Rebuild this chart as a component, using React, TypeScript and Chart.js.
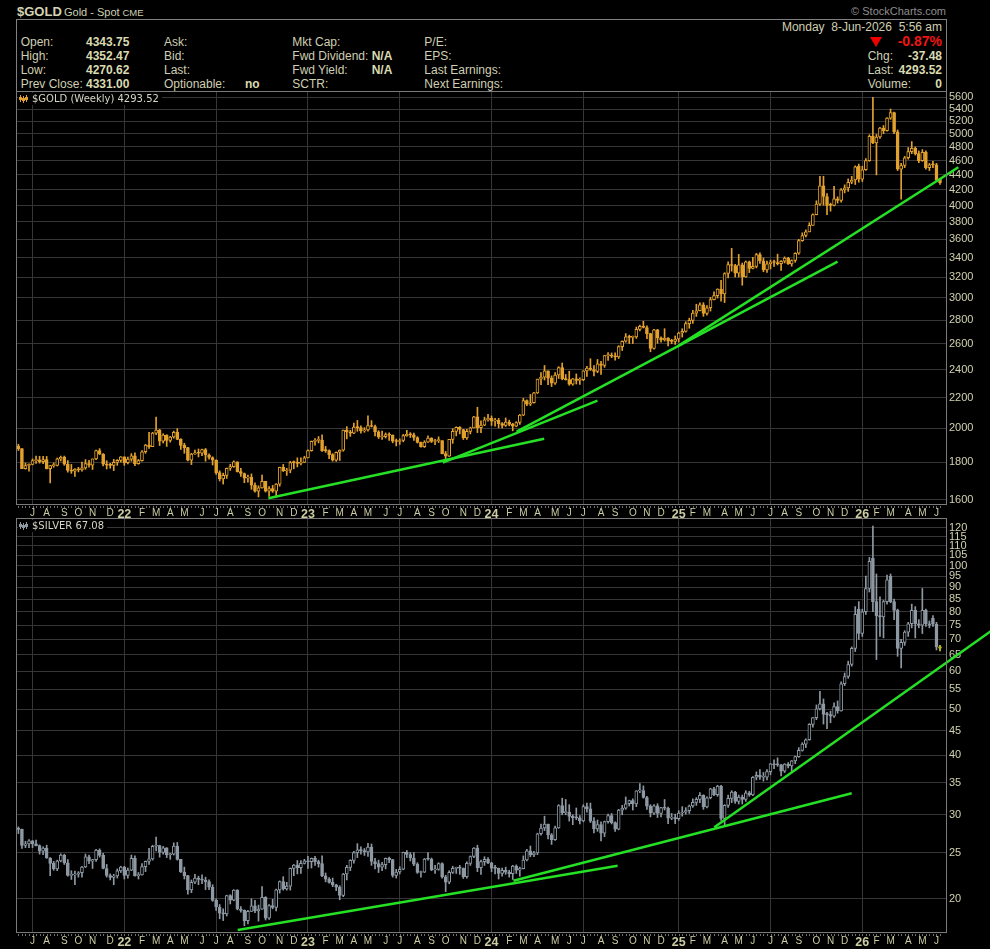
import React, { useEffect, useRef } from 'react';
import { Chart, registerables } from 'chart.js';

Chart.register(...registerables);

// ---- calendar: bar 0 is the week starting Monday 7 Jun 2021 ----
const FIRST_BAR_MONDAY = Date.UTC(2021, 5, 7);
const MONTH_LABELS = [
  'J','A','S','O','N','D',
  '22','F','M','A','M','J','J','A','S','O','N','D',
  '23','F','M','A','M','J','J','A','S','O','N','D',
  '24','F','M','A','M','J','J','A','S','O','N','D',
  '25','F','M','A','M','J','J','A','S','O','N','D',
  '26','F','M','A','M','J',
];

const GOLD_TICKS = [1600,1800,2000,2200,2400,2600,2800,3000,3200,3400,3600,3800,4000,4200,4400,4600,4800,5000,5200,5400,5600];
const SILVER_TICKS = [20,25,30,35,40,45,50,55,60,65,70,75,80,85,90,95,100,105,110,115,120];

// ---- $GOLD weekly OHLC ----
const GOLD_OPEN = [
  1892,1877,1764,1781,1787,1808,1812,1802,1814,1763,
  1780,1781,1818,1827,1788,1754,1750,1761,1757,1768,
  1792,1783,1818,1865,1846,1788,1783,1782,1798,1810,
  1829,1797,1817,1835,1791,1808,1859,1898,1889,1970,
  1988,1921,1958,1925,1946,1975,1932,1896,1883,1811,
  1846,1853,1850,1871,1840,1826,1811,1742,1708,1727,
  1766,1775,1802,1747,1737,1712,1716,1675,1644,1661,
  1695,1644,1657,1644,1681,1771,1751,1755,1797,1797,
  1793,1798,1824,1865,1920,1926,1928,1865,1865,1842,
  1811,1856,1868,1989,1978,1969,2007,2004,1983,1990,
  2017,2011,1978,1946,1948,1961,1958,1921,1919,1925,
  1955,1962,1959,1943,1914,1889,1915,1940,1919,1924,
  1925,1848,1833,1932,1981,2006,1992,1940,1981,2002,
  2072,2004,2019,2053,2063,2045,2049,2029,2018,2039,
  2024,2013,2036,2083,2179,2155,2165,2233,2330,2344,
  2392,2337,2301,2360,2415,2334,2327,2294,2333,2321,
  2326,2391,2411,2401,2386,2443,2431,2507,2512,2503,
  2497,2578,2622,2658,2653,2657,2721,2747,2736,2685,
  2563,2716,2650,2633,2648,2622,2621,2640,2690,2703,
  2770,2798,2861,2883,2936,2858,2910,2984,3022,3085,
  3038,3237,3327,3319,3241,3325,3203,3357,3289,3310,
  3432,3368,3274,3337,3355,3350,3337,3363,3397,3336,
  3371,3448,3586,3643,3685,3760,3887,4018,4252,4113,
  4002,4001,4085,4065,4200,4225,4300,4330,4520,4340,
  4470,4600,4960,4860,4950,5090,5050,5250,5340,5030,
  4480,4530,4640,4730,4780,4700,4600,4720,4500,4540,
  4540,4343.75,
];
const GOLD_HIGH = [
  1903,1878,1795,1790,1818,1834,1833,1832,1832,1782,
  1795,1823,1834,1834,1808,1787,1764,1771,1800,1814,
  1810,1818,1868,1877,1849,1808,1793,1815,1814,1831,
  1830,1828,1848,1853,1815,1865,1902,1974,1975,2070,
  1993,1966,1960,1950,1982,1998,1936,1909,1884,1850,
  1869,1875,1875,1878,1847,1830,1812,1752,1739,1767,
  1788,1807,1802,1765,1740,1729,1735,1688,1672,1729,
  1695,1668,1674,1683,1772,1787,1765,1804,1806,1824,
  1824,1833,1870,1922,1937,1949,1959,1890,1870,1848,
  1858,1870,1989,2010,1988,2032,2049,2015,2004,2079,
  2048,2019,1985,1983,1971,1971,1959,1934,1935,1962,
  1987,1973,1970,1948,1915,1924,1953,1942,1932,1947,
  1925,1861,1932,1997,2009,2010,1993,1993,2007,2075,
  2135,2047,2070,2088,2078,2062,2062,2036,2065,2051,
  2031,2041,2088,2195,2185,2222,2236,2330,2378,2431,
  2392,2354,2378,2422,2450,2364,2388,2335,2368,2340,
  2392,2424,2483,2431,2477,2462,2509,2531,2528,2529,
  2586,2625,2685,2672,2665,2740,2758,2790,2750,2688,
  2721,2721,2658,2726,2652,2638,2665,2697,2726,2786,
  2817,2886,2942,2954,2956,2930,3005,3057,3087,3168,
  3245,3358,3500,3331,3435,3344,3366,3365,3403,3446,
  3451,3398,3365,3374,3375,3438,3370,3409,3404,3378,
  3453,3600,3674,3707,3791,3897,4059,4379,4381,4150,
  4030,4245,4110,4215,4265,4345,4380,4525,4550,4520,
  4630,4985,5600,4990,5100,5130,5260,5400,5350,5060,
  4560,4660,4790,4880,4800,4740,4760,4740,4560,4590,
  4560,4352.47,
];
const GOLD_LOW = [
  1866,1763,1761,1750,1785,1792,1794,1791,1762,1687,
  1771,1778,1806,1782,1745,1738,1721,1746,1750,1760,
  1772,1759,1813,1842,1778,1762,1766,1753,1782,1800,
  1782,1790,1805,1780,1788,1805,1850,1878,1889,1960,
  1895,1910,1890,1915,1939,1930,1872,1850,1807,1786,
  1843,1829,1837,1805,1816,1784,1732,1697,1681,1711,
  1754,1771,1745,1721,1688,1691,1654,1639,1615,1660,
  1640,1618,1638,1616,1670,1748,1727,1741,1763,1773,
  1784,1797,1824,1862,1897,1911,1861,1855,1819,1805,
  1804,1809,1862,1935,1950,1966,1981,1969,1975,1982,
  2008,1952,1937,1932,1940,1925,1911,1893,1902,1917,
  1950,1943,1925,1910,1885,1884,1913,1913,1901,1913,
  1846,1810,1831,1908,1953,1965,1931,1932,1965,2002,
  1973,1973,2016,2045,2017,2013,2002,2002,2011,2015,
  1984,2009,2024,2080,2146,2146,2163,2228,2290,2324,
  2291,2277,2293,2335,2325,2323,2286,2286,2295,2293,
  2319,2350,2393,2353,2377,2364,2417,2470,2491,2471,
  2485,2547,2614,2603,2603,2645,2708,2732,2643,2537,
  2557,2605,2614,2623,2583,2601,2596,2615,2656,2697,
  2730,2772,2832,2881,2833,2844,2880,2982,2999,2971,
  2957,3194,3260,3202,3202,3121,3200,3246,3283,3294,
  3340,3255,3247,3283,3310,3324,3268,3345,3330,3311,
  3352,3436,3578,3627,3684,3758,3885,4000,4004,3886,
  3930,3995,4030,4040,4160,4180,4280,4270,4300,4310,
  4460,4590,4850,4400,4930,5000,5040,5230,5000,4460,
  4080,4500,4620,4700,4680,4570,4590,4480,4460,4500,
  4310,4270.62,
];
const GOLD_CLOSE = [
  1877,1764,1781,1787,1808,1812,1802,1814,1763,1780,
  1781,1818,1827,1788,1754,1750,1761,1757,1768,1792,
  1783,1818,1865,1846,1788,1783,1782,1798,1810,1829,
  1797,1817,1835,1791,1808,1859,1898,1889,1970,1988,
  1921,1958,1925,1946,1975,1932,1896,1883,1811,1846,
  1853,1850,1871,1840,1826,1811,1742,1708,1727,1766,
  1775,1802,1747,1737,1712,1716,1675,1644,1661,1695,
  1644,1657,1644,1681,1771,1751,1755,1797,1797,1793,
  1798,1824,1865,1920,1926,1928,1865,1865,1842,1811,
  1856,1868,1989,1978,1969,2007,2004,1983,1990,2017,
  2011,1978,1946,1948,1961,1958,1921,1919,1925,1955,
  1962,1959,1943,1914,1889,1915,1940,1919,1924,1925,
  1848,1833,1932,1981,2006,1992,1940,1981,2002,2072,
  2004,2019,2053,2063,2045,2049,2029,2018,2039,2024,
  2013,2036,2083,2179,2155,2165,2233,2330,2344,2392,
  2337,2301,2360,2415,2334,2327,2294,2333,2321,2326,
  2391,2411,2401,2386,2443,2431,2507,2512,2503,2497,
  2578,2622,2658,2653,2657,2721,2747,2736,2685,2563,
  2716,2650,2633,2648,2622,2621,2640,2690,2703,2770,
  2798,2861,2883,2936,2858,2910,2984,3022,3085,3038,
  3237,3327,3319,3241,3325,3203,3357,3289,3310,3432,
  3368,3274,3337,3355,3350,3337,3363,3397,3336,3371,
  3448,3586,3643,3685,3760,3887,4018,4252,4113,4002,
  4001,4085,4065,4200,4225,4300,4330,4510,4340,4470,
  4600,4960,4860,4950,5090,5050,5250,5340,5030,4480,
  4530,4640,4730,4780,4700,4600,4720,4500,4540,4540,
  4331,4293.52,
];

// ---- $SILVER weekly OHLC ----
const SILVER_OPEN = [
  28.05,27.95,25.87,26.07,26.45,26.06,25.84,25.18,25.55,24.35,
  23.73,23.09,24.00,24.69,23.78,22.39,22.44,22.51,22.68,23.31,
  24.49,23.99,24.16,25.29,24.66,23.15,22.38,22.18,22.32,22.88,
  23.31,22.38,22.96,24.32,22.36,22.45,23.36,23.95,24.24,25.77,
  25.87,25.00,25.57,24.73,24.80,25.80,24.19,22.76,22.36,20.86,
  21.66,22.09,21.96,21.89,21.72,21.14,19.84,19.22,18.66,18.59,
  20.31,19.87,20.85,19.03,18.91,17.99,18.81,19.32,18.86,19.02,
  20.14,18.21,19.34,19.19,20.88,21.74,20.98,21.25,23.16,23.54,
  23.25,23.73,24.03,23.91,24.30,23.93,23.69,22.33,21.98,21.64,
  21.40,21.16,20.32,22.54,23.27,24.07,24.99,25.32,25.23,25.07,
  25.66,23.94,23.69,23.29,23.58,24.31,24.16,22.39,22.76,23.06,
  25.03,24.77,24.35,23.64,22.70,22.75,24.22,24.20,22.99,23.04,
  23.71,22.22,21.67,22.71,23.16,23.18,23.18,22.26,23.72,24.53,
  25.53,23.23,23.92,24.18,23.79,23.19,23.16,22.59,22.93,22.75,
  22.58,23.43,22.97,23.13,24.12,25.20,24.72,24.95,27.37,28.15,
  28.67,27.22,26.60,28.17,31.35,30.31,30.40,29.77,29.55,29.55,
  29.14,31.23,30.86,29.10,28.01,28.60,27.44,29.02,29.87,28.89,
  28.00,30.68,30.98,31.64,32.12,31.60,33.68,33.72,32.61,31.29,
  30.25,31.33,30.19,31.05,30.96,29.53,29.56,29.45,30.26,30.37,
  30.60,31.30,31.86,32.31,32.97,31.15,32.57,34.02,33.06,34.46,
  29.49,31.40,32.48,33.49,32.02,32.66,32.32,33.34,33.02,35.97,
  36.31,35.97,36.00,36.96,38.39,38.19,38.17,37.03,38.33,37.98,
  38.92,39.72,40.94,42.22,43.11,46.44,47.96,50.05,51.29,48.70,
  48.66,48.31,50.58,49.56,56.50,58.50,62.00,67.00,81.00,72.00,
  80.00,89.50,103.60,84.00,78.50,78.00,84.00,95.00,84.00,80.50,
  67.00,69.00,72.50,75.50,80.50,75.50,75.00,80.50,75.50,77.50,
  75.30,67.50,
];
const SILVER_HIGH = [
  28.30,28.00,26.40,26.60,26.50,26.55,25.95,25.70,25.90,24.40,
  23.95,24.10,24.85,24.80,24.15,22.90,22.85,22.80,23.40,24.82,
  24.70,24.20,25.40,25.45,24.90,23.60,22.55,22.50,23.10,23.40,
  23.40,23.20,24.70,24.60,22.70,23.70,24.00,25.50,25.90,26.95,
  25.90,25.75,25.60,24.90,26.20,26.25,24.20,23.30,22.40,21.90,
  22.50,22.30,22.45,22.20,21.90,21.40,20.00,19.45,19.05,20.35,
  20.40,20.90,20.90,19.25,18.95,18.90,20.00,19.85,19.40,21.20,
  20.20,19.45,19.95,20.95,21.80,22.25,21.65,23.20,23.60,24.05,
  24.05,24.20,24.55,24.35,24.55,24.10,24.60,22.65,22.15,22.10,
  21.45,21.30,22.60,23.50,24.15,25.15,26.10,25.70,25.50,26.15,
  26.05,24.30,24.10,23.85,24.35,24.45,24.20,23.05,23.35,25.05,
  25.25,25.00,25.00,23.80,22.85,24.30,25.00,24.35,23.50,23.80,
  23.80,22.40,22.90,23.40,23.30,23.50,23.20,23.90,24.60,25.60,
  25.90,24.10,24.50,24.40,23.85,23.50,23.20,23.20,23.30,22.95,
  23.50,23.55,23.30,24.60,25.40,25.80,25.15,27.45,28.70,29.80,
  28.70,27.40,28.40,31.50,32.50,32.30,31.50,30.00,31.00,29.90,
  31.50,31.75,31.75,29.60,29.25,29.00,29.10,30.10,30.20,29.00,
  30.80,31.40,32.70,32.20,32.40,33.70,34.90,34.50,32.80,31.50,
  31.50,31.65,31.10,32.30,31.15,30.20,30.10,30.60,31.20,31.05,
  31.45,32.40,32.60,33.40,33.05,32.70,34.10,34.25,34.60,34.60,
  31.50,33.00,33.70,33.60,33.00,33.00,33.70,33.60,36.10,36.90,
  37.30,36.80,37.30,38.45,39.10,39.50,38.30,38.40,38.60,39.00,
  39.80,41.50,42.50,43.30,46.60,48.00,51.00,54.47,52.50,49.20,
  49.50,51.50,52.00,57.00,59.50,63.00,67.50,82.00,84.00,81.00,
  95.00,104.00,121.00,96.00,86.00,84.50,95.50,96.00,85.00,81.00,
  70.00,73.00,76.00,83.00,82.00,77.00,89.50,81.00,76.50,78.50,
  76.00,68.00,
];
const SILVER_LOW = [
  27.40,25.50,25.60,25.60,25.60,25.80,24.80,24.75,24.30,22.35,
  22.95,22.90,23.90,23.60,22.30,21.95,21.40,22.20,22.20,23.25,
  23.70,23.15,23.95,24.45,23.10,22.20,21.90,21.40,22.10,22.70,
  22.00,22.10,22.90,22.30,22.00,22.40,22.80,23.60,24.10,25.20,
  24.45,24.80,24.40,24.20,24.70,24.10,22.70,22.00,20.45,20.60,
  21.50,21.40,21.50,20.90,20.90,19.75,18.90,18.15,18.00,18.40,
  19.50,19.80,18.95,18.75,17.55,17.70,18.80,18.70,17.95,19.00,
  18.05,18.10,19.05,18.85,20.55,20.85,20.85,20.85,22.35,22.55,
  22.60,23.65,23.15,23.20,23.50,23.30,22.25,21.70,21.55,21.20,
  20.80,19.90,20.20,21.90,22.90,23.75,24.40,24.80,24.65,24.55,
  23.50,23.10,22.70,22.90,23.10,23.80,22.20,22.10,22.55,23.00,
  24.40,24.00,23.45,22.60,22.20,22.70,24.10,22.90,22.60,22.95,
  22.10,20.70,21.50,22.60,22.60,22.50,22.05,22.10,23.50,24.40,
  22.80,22.50,23.50,23.70,22.80,22.55,22.00,22.30,22.50,22.20,
  21.95,22.60,22.30,23.10,24.00,24.50,24.50,24.75,27.20,27.80,
  26.70,26.00,26.50,28.10,30.00,30.00,29.10,28.60,29.30,28.70,
  29.00,30.40,28.90,27.50,27.70,26.45,27.00,28.80,28.70,27.70,
  27.90,30.00,30.80,31.30,30.70,31.20,33.40,32.50,30.80,29.70,
  30.00,29.60,29.70,30.70,28.75,29.30,28.75,29.20,29.80,30.10,
  30.20,31.10,31.40,31.80,30.80,31.00,32.40,32.90,32.80,29.20,
  28.35,31.10,31.80,31.70,31.60,31.60,32.00,32.80,32.90,35.50,
  35.60,35.30,35.50,36.40,37.50,37.90,36.20,36.80,37.60,37.00,
  38.40,39.60,40.80,41.50,43.00,45.80,47.50,49.80,46.50,45.50,
  46.80,48.00,49.00,49.50,56.00,58.00,61.50,66.00,70.00,71.00,
  79.00,88.00,80.00,63.50,71.00,70.50,83.00,83.50,77.00,64.50,
  61.00,68.00,71.00,74.00,70.50,74.00,72.00,74.50,74.00,74.50,
  66.50,66.20,
];
const SILVER_CLOSE = [
  27.95,25.87,26.07,26.45,26.06,25.84,25.18,25.55,24.35,23.73,
  23.09,24.00,24.69,23.78,22.39,22.44,22.51,22.68,23.31,24.49,
  23.99,24.16,25.29,24.66,23.15,22.38,22.18,22.32,22.88,23.31,
  22.38,22.96,24.32,22.36,22.45,23.36,23.95,24.24,25.77,25.87,
  25.00,25.57,24.73,24.80,25.80,24.19,22.76,22.36,20.86,21.66,
  22.09,21.96,21.89,21.72,21.14,19.84,19.22,18.66,18.59,20.31,
  19.87,20.85,19.03,18.91,17.99,18.81,19.32,18.86,19.02,20.14,
  18.21,19.34,19.19,20.88,21.74,20.98,21.25,23.16,23.54,23.25,
  23.73,24.03,23.91,24.30,23.93,23.69,22.33,21.98,21.64,21.40,
  21.16,20.32,22.54,23.27,24.07,24.99,25.32,25.23,25.07,25.66,
  23.94,23.69,23.29,23.58,24.31,24.16,22.39,22.76,23.06,25.03,
  24.77,24.35,23.64,22.70,22.75,24.22,24.20,22.99,23.04,23.71,
  22.22,21.67,22.71,23.16,23.18,23.18,22.26,23.72,24.53,25.53,
  23.23,23.92,24.18,23.79,23.19,23.16,22.59,22.93,22.75,22.58,
  23.43,22.97,23.13,24.12,25.20,24.72,24.95,27.37,28.15,28.67,
  27.22,26.60,28.17,31.35,30.31,30.40,29.77,29.55,29.55,29.14,
  31.23,30.86,29.10,28.01,28.60,27.44,29.02,29.87,28.89,28.00,
  30.68,30.98,31.64,32.12,31.60,33.68,33.72,32.61,31.29,30.25,
  31.33,30.19,31.05,30.96,29.53,29.56,29.45,30.26,30.37,30.60,
  31.30,31.86,32.31,32.97,31.15,32.57,34.02,33.06,34.46,29.49,
  31.40,32.48,33.49,32.02,32.66,32.32,33.34,33.02,35.97,36.31,
  35.97,36.00,36.96,38.39,38.19,38.17,37.03,38.33,37.98,38.92,
  39.72,40.94,42.22,43.11,46.44,47.96,50.05,51.29,48.70,48.66,
  48.31,50.58,49.56,56.50,58.50,62.00,67.00,79.00,72.00,80.00,
  89.50,102.00,84.00,78.50,78.00,84.00,93.30,84.00,80.50,67.00,
  69.00,72.50,75.50,80.50,75.50,75.00,80.50,75.50,75.00,75.30,
  67.50,67.08,
];

// ---- trend lines: [startWeek, startPrice, endWeek, endPrice] ----
const GOLD_TRENDLINES = [
  [70.8, 1608, 148.9, 1936],
  [120.2, 1797, 164.0, 2179],
  [141.1, 1979, 232.0, 3359],
  [186.9, 2584, 266.2, 4505],
];
const SILVER_TRENDLINES = [
  [62.1, 17.19, 169.7, 23.46],
  [140.2, 21.82, 236.0, 33.29],
  [197.1, 28.24, 276.6, 73.9],
];

const FONT = '"Liberation Sans", Arial, Helvetica, sans-serif';
const GOLD_COLOR = '#e2a12e';
const SILVER_COLOR = '#8e99a3';
const GRID = '#363636';
const FRAME = '#7a7a7a';
const AXIS_TEXT = '#d2d2b0';
const GREEN = '#25e025';

const WEEK_MS = 7 * 86400000;
const MONTH_TICKS = MONTH_LABELS.map((_, m) => {
  const d = new Date(Date.UTC(2021, 6 + m, 1));
  const add = (8 - d.getUTCDay()) % 7;
  return (d.getTime() + add * 86400000 - FIRST_BAR_MONDAY) / WEEK_MS;
});

function panelPlugin(label: string, iconColor: string, n: number) {
  return {
    id: 'panelDecor',
    afterDraw(chart: any) {
      const { ctx, chartArea: a, scales } = chart;
      const xs = scales.x;
      ctx.save();
      ctx.strokeStyle = FRAME;
      ctx.lineWidth = 1;
      ctx.strokeRect(a.left + 0.5, a.top + 0.5, a.right - a.left, a.bottom - a.top - 1);
      ctx.fillStyle = '#6e6e6e';
      for (let i = 0; i < n; i++) {
        const x = Math.round(xs.getPixelForValue(i));
        ctx.fillRect(x, a.bottom + 1, 1, 2);
      }
      ctx.font = '10px "DejaVu Sans", Verdana, sans-serif';
      const w = ctx.measureText(label).width;
      ctx.fillStyle = '#000';
      ctx.fillRect(a.left + 2, a.top + 2, w + 17, 12);
      ctx.fillStyle = iconColor;
      for (let j = 0; j < 3; j++) {
        const cx = a.left + 4 + j * 3;
        ctx.fillRect(cx, a.top + 4 + (j % 2), 1, 7);
        ctx.fillRect(cx - 1, a.top + 6 + (j % 2), 3, 3);
      }
      ctx.fillStyle = '#d6d6c6';
      ctx.textBaseline = 'alphabetic';
      ctx.textAlign = 'left';
      ctx.fillText(label, a.left + 16, a.top + 11);
      ctx.restore();
    },
  };
}

function buildConfig(p: any) {
  const n = p.close.length;
  const wicks = p.close.map((_: number, i: number) => ({ x: i, y: [p.low[i], p.high[i]] }));
  const bodies = p.close.map((c: number, i: number) => ({ x: i, y: [p.open[i], c] }));
  const edgeOf = (i: number) => (i === n - 1 && p.lastEdge ? p.lastEdge : p.color);
  const fillOf = (i: number) =>
    i === n - 1 && p.lastFill ? p.lastFill : p.close[i] > p.open[i] ? '#000000' : p.color;
  const datasets: any[] = [
    {
      type: 'bar', data: wicks, grouped: false, barThickness: 1,
      backgroundColor: (c: any) => edgeOf(c.dataIndex), borderWidth: 0, order: 3,
    },
    {
      type: 'bar', data: bodies, grouped: false, barThickness: 3, minBarLength: 1,
      backgroundColor: (c: any) => fillOf(c.dataIndex),
      borderColor: (c: any) => edgeOf(c.dataIndex),
      borderWidth: 1, borderSkipped: false, order: 2,
    },
    ...p.trends.map((t: number[]) => ({
      type: 'line',
      data: [{ x: t[0], y: t[1] }, { x: t[2], y: t[3] }],
      borderColor: GREEN, borderWidth: 2.5, pointRadius: 0, tension: 0,
      clip: false, order: 1,
    })),
  ];
  return {
    type: 'bar',
    data: { datasets },
    options: {
      responsive: false,
      animation: false,
      events: [],
      layout: { padding: { left: 16, right: 0, top: 0, bottom: 0 } },
      plugins: { legend: { display: false }, tooltip: { enabled: false }, title: { display: false } },
      scales: {
        x: {
          type: 'linear', min: -0.68, max: 262.7, offset: false, bounds: 'data',
          grid: {
            offset: false, drawTicks: false,
            color: (c: any) => (c.index % 6 === 0 ? GRID : 'rgba(0,0,0,0)'),
          },
          border: { display: false },
          afterBuildTicks: (s: any) => { s.ticks = MONTH_TICKS.map((v) => ({ value: v })); },
          afterFit: (s: any) => { s.height = p.axisHeight; s.paddingLeft = 0; s.paddingRight = 0; },
          ticks: {
            autoSkip: false, maxRotation: 0, minRotation: 0, padding: 2,
            color: '#cdcda4',
            font: (c: any) => {
              const yr = /^\d/.test(MONTH_LABELS[c.index] || '');
              return { family: FONT, size: yr ? 12.5 : 10, weight: yr ? 'bold' : 'normal' };
            },
            callback: (_v: any, i: number) => MONTH_LABELS[i],
          },
        },
        y: {
          type: 'logarithmic', position: 'right', min: p.yMin, max: p.yMax, bounds: 'data',
          grid: { color: GRID, drawTicks: false },
          border: { display: false },
          afterBuildTicks: (s: any) => { s.ticks = p.yTicks.map((v: number) => ({ value: v })); },
          afterFit: (s: any) => { s.width = 44; s.paddingTop = 0; s.paddingBottom = 0; },
          ticks: {
            autoSkip: false, padding: 3, color: AXIS_TEXT,
            font: { family: FONT, size: 11 },
            callback: (v: any) => String(v),
          },
        },
      },
    },
    plugins: [panelPlugin(p.label, p.iconColor, n)],
  };
}

const LABEL = '#cfcfb2';
const VALUE = '#dadab0';

function T(props: any) {
  const { x, b, text, size = 12, bold = false, color = LABEL, right = false } = props;
  const style: any = {
    position: 'absolute',
    top: b - 0.8465 * size,
    fontFamily: FONT,
    fontSize: size,
    lineHeight: size + 'px',
    fontWeight: bold ? 'bold' : 'normal',
    color,
    whiteSpace: 'pre',
  };
  if (right) style.right = 990 - x; else style.left = x;
  return <div style={style}>{text}</div>;
}

export default function App() {
  const goldRef = useRef<HTMLCanvasElement>(null);
  const silverRef = useRef<HTMLCanvasElement>(null);

  useEffect(() => {
    const g = new Chart(goldRef.current as any, buildConfig({
      open: GOLD_OPEN, high: GOLD_HIGH, low: GOLD_LOW, close: GOLD_CLOSE,
      color: GOLD_COLOR, yMin: 1575, yMax: 5712, yTicks: GOLD_TICKS,
      trends: GOLD_TRENDLINES, label: '$GOLD (Weekly) 4293.52', iconColor: GOLD_COLOR,
      axisHeight: 13,
    }) as any);
    const s = new Chart(silverRef.current as any, buildConfig({
      open: SILVER_OPEN, high: SILVER_HIGH, low: SILVER_LOW, close: SILVER_CLOSE,
      color: SILVER_COLOR, yMin: 16.95, yMax: 125.8, yTicks: SILVER_TICKS,
      trends: SILVER_TRENDLINES, label: '$SILVER 67.08', iconColor: SILVER_COLOR,
      axisHeight: 16, lastFill: '#8c8c16', lastEdge: '#cfc82c',
    }) as any);
    return () => { g.destroy(); s.destroy(); };
  }, []);

  return (
    <div style={{ position: 'absolute', left: 0, top: 0, width: 990, height: 949, background: '#000', overflow: 'hidden' }}>
      <T x={17} b={16} text="$GOLD" size={13} bold color="#d4d4b4" />
      <T x={64} b={16} text="Gold - Spot" size={11} />
      <T x={122.5} b={16} text="CME" size={9.5} />
      <T x={946} b={15.5} text="© StockCharts.com" size={11} color="#8e8e8e" right />
      <div style={{ position: 'absolute', left: 16, top: 19, width: 931, height: 73, boxSizing: 'border-box', border: '1px solid #808080' }} />

      <T x={20.7} b={45.7} text="Open:" />
      <T x={86} b={45.7} text="4343.75" bold color={VALUE} />
      <T x={164} b={45.7} text="Ask:" />
      <T x={292.3} b={45.7} text="Mkt Cap:" />
      <T x={424.3} b={45.7} text="P/E:" />

      <T x={20.7} b={60} text="High:" />
      <T x={86} b={60} text="4352.47" bold color={VALUE} />
      <T x={164} b={60} text="Bid:" />
      <T x={292.3} b={60} text="Fwd Dividend:" />
      <T x={371.7} b={60} text="N/A" bold color={VALUE} />
      <T x={424.3} b={60} text="EPS:" />

      <T x={20.7} b={74.3} text="Low:" />
      <T x={86} b={74.3} text="4270.62" bold color={VALUE} />
      <T x={164} b={74.3} text="Last:" />
      <T x={292.3} b={74.3} text="Fwd Yield:" />
      <T x={371.7} b={74.3} text="N/A" bold color={VALUE} />
      <T x={424.3} b={74.3} text="Last Earnings:" />

      <T x={20.7} b={88.5} text="Prev Close:" />
      <T x={86} b={88.5} text="4331.00" bold color={VALUE} />
      <T x={164} b={88.5} text="Optionable:" />
      <T x={245} b={88.5} text="no" bold color={VALUE} />
      <T x={292.3} b={88.5} text="SCTR:" />
      <T x={424.3} b={88.5} text="Next Earnings:" />

      <T x={942} b={30.7} text="Monday  8-Jun-2026  5:56 am" right />
      <div style={{ position: 'absolute', left: 870, top: 37, width: 0, height: 0, borderLeft: '6px solid transparent', borderRight: '6px solid transparent', borderTop: '10px solid #f00000' }} />
      <T x={942} b={45.7} text="-0.87%" size={14} bold color="#f01414" right />
      <T x={867.7} b={60} text="Chg:" />
      <T x={942} b={60} text="-37.48" bold color={VALUE} right />
      <T x={867.7} b={74.3} text="Last:" />
      <T x={942} b={74.3} text="4293.52" bold color={VALUE} right />
      <T x={867.7} b={88.5} text="Volume:" />
      <T x={942} b={88.5} text="0" bold color={VALUE} right />

      <canvas ref={goldRef} width={990} height={427} style={{ position: 'absolute', left: 0, top: 91, width: 990, height: 427 }} />
      <canvas ref={silverRef} width={990} height={431} style={{ position: 'absolute', left: 0, top: 518, width: 990, height: 431 }} />
    </div>
  );
}
